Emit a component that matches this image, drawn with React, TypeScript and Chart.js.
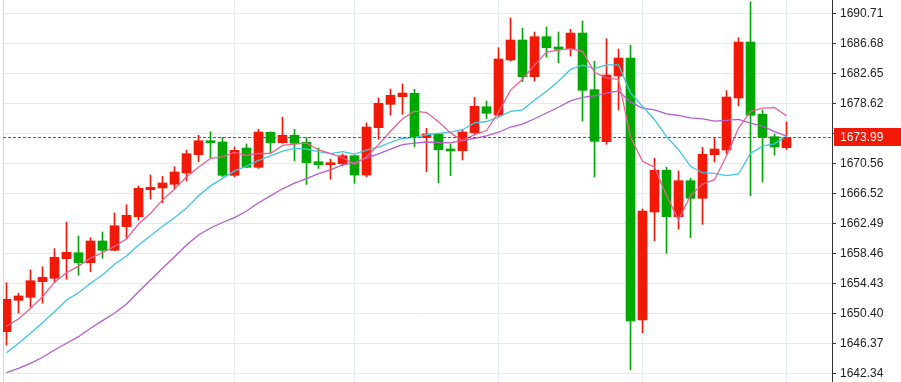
import React, { useEffect, useRef } from 'react';
import { Chart, registerables } from 'chart.js';

Chart.register(...registerables);

// ---- data ----
const opens = [
  1647.93, 1652.15, 1652.55, 1654.65, 1655.10, 1657.74, 1658.54, 1657.20, 1660.12, 1658.87,
  1662.04, 1663.38, 1667.01, 1667.24, 1667.73, 1669.25, 1671.71, 1673.59, 1673.42, 1668.94,
  1672.61, 1670.02, 1674.72, 1673.32, 1674.32, 1673.38, 1670.77, 1670.37, 1670.50, 1671.58,
  1668.98, 1675.34, 1678.48, 1679.50, 1679.96, 1673.99, 1674.49, 1672.48, 1672.25, 1674.67,
  1678.16, 1677.05, 1684.44, 1687.12, 1682.19, 1687.57, 1686.18, 1685.95, 1688.06, 1680.45,
  1673.46, 1682.29, 1684.70, 1649.50, 1664.01, 1669.62, 1663.38, 1668.22, 1665.85, 1671.71,
  1672.34, 1679.33, 1686.85, 1677.14, 1674.13, 1672.65,
];
const highs = [
  1654.51, 1653.09, 1656.22, 1656.66, 1659.08, 1662.63, 1660.79, 1660.56, 1661.33, 1663.88,
  1664.99, 1667.51, 1668.98, 1668.81, 1670.10, 1672.34, 1674.32, 1674.80, 1674.05, 1672.75,
  1673.15, 1675.12, 1674.78, 1676.74, 1675.12, 1674.05, 1672.61, 1671.13, 1671.81, 1671.65,
  1675.97, 1679.33, 1680.54, 1681.21, 1680.50, 1675.26, 1674.55, 1673.15, 1675.03, 1679.42,
  1678.93, 1686.09, 1690.08, 1688.69, 1688.20, 1688.87, 1688.20, 1688.56, 1689.68, 1684.26,
  1687.30, 1685.91, 1686.45, 1664.42, 1671.23, 1670.02, 1669.52, 1668.54, 1672.71, 1673.98,
  1680.31, 1687.43, 1692.23, 1677.72, 1674.49, 1676.11,
];
const lows = [
  1646.14, 1650.40, 1651.29, 1651.75, 1654.51, 1654.97, 1655.51, 1655.99, 1657.79, 1658.80,
  1660.52, 1662.94, 1665.76, 1665.26, 1667.14, 1668.18, 1670.77, 1671.23, 1668.76, 1668.76,
  1669.95, 1669.88, 1671.98, 1673.25, 1670.91, 1667.73, 1669.88, 1668.41, 1670.19, 1667.87,
  1668.76, 1673.78, 1677.01, 1677.14, 1672.79, 1669.43, 1667.95, 1668.89, 1671.00, 1674.36,
  1676.55, 1676.82, 1684.30, 1681.52, 1681.61, 1684.80, 1684.07, 1684.97, 1676.24, 1668.72,
  1673.11, 1677.72, 1642.78, 1647.80, 1660.16, 1658.46, 1661.69, 1660.56, 1662.36, 1670.73,
  1671.81, 1678.26, 1666.20, 1668.04, 1671.67, 1672.38,
];
const closes = [
  1652.28, 1652.73, 1654.78, 1655.24, 1657.93, 1658.60, 1657.20, 1660.12, 1658.87, 1662.17,
  1663.57, 1667.20, 1667.33, 1667.91, 1669.39, 1671.85, 1673.59, 1673.32, 1668.94, 1672.30,
  1670.02, 1674.76, 1673.32, 1674.32, 1673.24, 1670.64, 1670.37, 1670.64, 1671.58, 1668.98,
  1675.43, 1678.62, 1679.69, 1680.00, 1674.09, 1674.49, 1672.38, 1672.21, 1674.76, 1678.21,
  1677.27, 1684.57, 1687.12, 1682.19, 1687.57, 1686.09, 1685.87, 1688.06, 1680.36, 1673.51,
  1682.42, 1684.70, 1649.37, 1664.15, 1669.62, 1663.38, 1668.22, 1665.85, 1671.77, 1672.48,
  1679.46, 1686.85, 1677.01, 1674.05, 1672.75, 1673.99,
];
const ma5 = [
  1648.70, 1649.64, 1651.07, 1652.63, 1654.59, 1655.86, 1656.74, 1657.82, 1658.54, 1659.39,
  1660.39, 1662.39, 1663.82, 1665.64, 1667.08, 1668.73, 1670.02, 1671.21, 1671.42, 1672.01,
  1671.63, 1671.87, 1671.87, 1672.95, 1673.14, 1673.26, 1672.38, 1671.85, 1671.30, 1670.44,
  1671.40, 1673.06, 1674.86, 1676.55, 1677.57, 1677.38, 1676.13, 1674.64, 1673.59, 1674.41,
  1674.96, 1677.41, 1680.39, 1681.87, 1683.75, 1685.51, 1685.77, 1685.95, 1685.59, 1682.78,
  1682.04, 1681.82, 1674.08, 1670.82, 1670.04, 1666.24, 1662.95, 1666.24, 1667.76, 1668.35,
  1671.56, 1675.29, 1677.52, 1677.97, 1678.03, 1676.95,
];
const ma10 = [
  1645.11, 1646.37, 1647.71, 1649.14, 1650.62, 1652.19, 1653.17, 1654.43, 1655.55, 1656.99,
  1658.11, 1659.57, 1660.82, 1662.09, 1663.23, 1664.56, 1666.20, 1667.52, 1668.53, 1669.54,
  1670.18, 1670.95, 1671.54, 1672.18, 1672.57, 1672.45, 1672.13, 1671.86, 1672.11, 1671.79,
  1672.33, 1672.72, 1673.35, 1673.92, 1674.01, 1674.39, 1674.59, 1674.75, 1675.07, 1675.98,
  1676.17, 1676.76, 1677.52, 1677.73, 1679.07, 1680.24, 1681.59, 1683.17, 1683.74, 1683.27,
  1683.78, 1683.79, 1680.02, 1678.21, 1676.41, 1674.14, 1672.38, 1670.15, 1669.29, 1669.20,
  1668.90, 1669.12, 1671.87, 1672.87, 1673.18, 1674.24,
];
const ma20 = [
  1642.42, 1643.01, 1643.68, 1644.49, 1645.47, 1646.37, 1647.26, 1648.39, 1649.41, 1650.40,
  1651.65, 1653.30, 1654.88, 1656.45, 1658.01, 1659.58, 1660.92, 1661.86, 1662.60, 1663.26,
  1664.15, 1665.25, 1666.18, 1667.13, 1667.90, 1668.50, 1669.16, 1669.68, 1670.33, 1670.66,
  1671.25, 1671.83, 1672.45, 1673.06, 1673.28, 1673.42, 1673.35, 1673.30, 1673.59, 1673.89,
  1674.25, 1674.73, 1675.43, 1675.82, 1676.54, 1677.31, 1678.09, 1678.95, 1679.40, 1679.63,
  1679.98, 1680.28, 1678.77, 1677.97, 1677.74, 1677.19, 1676.98, 1676.67, 1676.52, 1676.23,
  1676.33, 1676.45, 1675.94, 1675.54, 1674.80, 1674.20,
];
const yTickLabels = [
  '1642.34', '1646.37', '1650.40', '1654.43', '1658.46', '1662.49', '1666.52',
  '1670.56', '1674.59', '1678.62', '1682.65', '1686.68', '1690.71',
];
const xGridIndices = [19, 29, 41, 53, 65];
const lastPrice = 1673.99;
const lastPriceLabel = '1673.99';
const yMin = 1641.17;
const yMax = 1692.497;
const xMin = -0.2917;
const xMax = 68.79;

const UP = '#f21a06';
const DOWN = '#02a802';
const GRID = '#e3e9ef';
const FONT = '"Liberation Sans", Arial, sans-serif';

export default function App() {
  const ref = useRef<HTMLCanvasElement>(null);

  useEffect(() => {
    const canvas = ref.current;
    if (!canvas) return;
    const idx = closes.map((_, i) => i);
    const colors = closes.map((c, i) => (c >= opens[i] ? UP : DOWN));

    const framePlugin = {
      id: 'frame',
      beforeDatasetsDraw(chart: any) {
        const { ctx, chartArea } = chart;
        ctx.save();
        ctx.strokeStyle = '#d3d7db';
        ctx.lineWidth = 1;
        ctx.beginPath();
        ctx.moveTo(chartArea.left + 0.5, chartArea.top);
        ctx.lineTo(chartArea.left + 0.5, chartArea.bottom);
        ctx.stroke();
        ctx.restore();
      },
      afterDraw(chart: any) {
        const { ctx, chartArea } = chart;
        const y = chart.scales.y.getPixelForValue(lastPrice);
        ctx.save();
        ctx.strokeStyle = '#ff1a00';
        ctx.lineWidth = 1;
        ctx.setLineDash([3, 2]);
        ctx.beginPath();
        const yy = Math.floor(y) + 0.5;
        ctx.moveTo(chartArea.left, yy);
        ctx.lineTo(chartArea.right, yy);
        ctx.stroke();
        ctx.setLineDash([]);
        const top = Math.round(y - 9.5);
        ctx.fillStyle = UP;
        ctx.fillRect(chartArea.right + 2, top, chart.width - chartArea.right - 2, 18);
        ctx.fillStyle = '#ffffff';
        ctx.font = '12px ' + FONT;
        ctx.textBaseline = 'middle';
        ctx.textAlign = 'left';
        ctx.fillText(lastPriceLabel, chartArea.right + 8, top + 9.5);
        ctx.restore();
      },
    };

    const chart = new Chart(canvas, {
      type: 'bar',
      data: {
        datasets: [
          {
            type: 'line',
            label: 'MA5',
            data: idx.map((i) => ({ x: i, y: ma5[i] })),
            borderColor: '#ee5f90',
            borderWidth: 1.3,
            pointRadius: 0,
            tension: 0,
            order: 0,
            clip: 0,
          } as any,
          {
            type: 'line',
            label: 'MA10',
            data: idx.map((i) => ({ x: i, y: ma10[i] })),
            borderColor: '#3ec6e4',
            borderWidth: 1.3,
            pointRadius: 0,
            tension: 0,
            order: 0,
            clip: 0,
          } as any,
          {
            type: 'line',
            label: 'MA20',
            data: idx.map((i) => ({ x: i, y: ma20[i] })),
            borderColor: '#b45dcf',
            borderWidth: 1.3,
            pointRadius: 0,
            tension: 0,
            order: 0,
            clip: 0,
          } as any,
          {
            type: 'bar',
            label: 'body',
            data: idx.map((i) => ({ x: i, y: [opens[i], closes[i]] })),
            backgroundColor: colors,
            borderWidth: 0,
            barThickness: 9,
            maxBarThickness: 9,
            grouped: false,
            minBarLength: 1,
            order: 1,
            clip: 0,
          } as any,
          {
            type: 'bar',
            label: 'wick',
            data: idx.map((i) => ({ x: i, y: [lows[i], highs[i]] })),
            backgroundColor: colors,
            borderWidth: 0,
            barThickness: 1,
            maxBarThickness: 1,
            grouped: false,
            order: 2,
            clip: 0,
          } as any,
        ],
      },
      options: {
        animation: false,
        responsive: false,
        maintainAspectRatio: false,
        layout: { padding: { left: 3, right: 0, top: 0, bottom: 0 } },
        plugins: { legend: { display: false }, tooltip: { enabled: false } },
        scales: {
          x: {
            type: 'linear',
            min: xMin,
            max: xMax,
            offset: false,
            afterBuildTicks: (s: any) => {
              s.ticks = xGridIndices.map((v) => ({ value: v }));
            },
            afterFit: (s: any) => {
              s.height = 0;
              s.paddingLeft = 0;
              s.paddingRight = 0;
            },
            ticks: { display: false },
            grid: { color: GRID, drawTicks: false, offset: false },
            border: { display: false },
          },
          y: {
            type: 'linear',
            position: 'right',
            min: yMin,
            max: yMax,
            afterBuildTicks: (s: any) => {
              s.ticks = yTickLabels.map((l) => ({ value: parseFloat(l) }));
            },
            afterFit: (s: any) => {
              s.width = 69;
              s.paddingTop = 0;
              s.paddingBottom = 0;
            },
            ticks: {
              autoSkip: false,
              padding: 4,
              color: '#222',
              font: { family: FONT, size: 12 },
              callback: (_v: any, i: number) => yTickLabels[i],
            },
            grid: { color: GRID, tickColor: '#333', tickLength: 4, drawTicks: true },
            border: { display: true, color: '#333', width: 1 },
          },
        },
      } as any,
      plugins: [framePlugin],
    });
    return () => chart.destroy();
  }, []);

  return (
    <div style={{ position: 'fixed', left: 0, top: 0, width: 901, height: 382, background: '#fff' }}>
      <canvas ref={ref} width={901} height={382} style={{ display: 'block' }} />
    </div>
  );
}
